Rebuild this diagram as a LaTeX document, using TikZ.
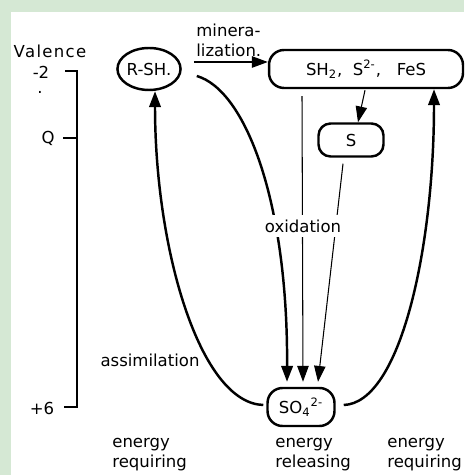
\documentclass[tikz,border=0pt]{standalone}
\usepackage{fontspec}
\setmainfont{DejaVu Sans}
\usetikzlibrary{arrows.meta, positioning, calc, shapes.geometric}
\definecolor{frameColor}{HTML}{D5E8D4}

\begin{document}
\begin{tikzpicture}[
    x=0.02cm, y=-0.02cm,
    font=\fontsize{9.4}{11.3}\selectfont,
    species/.style={draw, line width=1.4pt, rounded corners=0.3cm, inner sep=0pt, minimum height=0.76cm},
    organic/.style={ellipse, draw, line width=1.4pt, inner sep=0pt, minimum width=1.24cm, minimum height=0.84cm},
    flux/.style={-{Triangle[length=9pt, width=6.5pt]}, line width=1.4pt},
    minor/.style={-{Triangle[length=9pt, width=6.5pt]}, line width=0.6pt},
    scaleLine/.style={line width=0.8pt},
    labelStyle/.style={fill=white, inner sep=2.5pt},
    energyStyle/.style={anchor=north west, align=left, inner sep=0pt}
]

\fill[frameColor] (0,0) rectangle (464,475);
\fill[white] (11,12) rectangle (464,475);
\useasboundingbox (0,0) rectangle (464,475);

% valence scale
\node (valence) at (50,51) {\addfontfeatures{LetterSpace=8}Valence};
\node[inner sep=1pt] (vMinus2) at (41,72) {-2};
\node[inner sep=0pt] (vDot) at (40,92) {.};
\node (vZero) at (48,138) {Q};
\node (vPlus6) at (42,408) {+6};
\coordinate (t2) at (77,71);
\coordinate (t0) at (77,138);
\coordinate (t6) at (77,407);
\draw[scaleLine] ($(t2)+(-12,0)$) -- (t2) -- (t6) -- ($(t6)+(-13,0)$);
\draw[scaleLine] ($(t0)+(-14,0)$) -- (t0);

% sulfur species
\node[organic] (RSH) at (149,69) {R-SH.};
\node[species, minimum width=3.88cm] (H2S) at (366,69) {SH\textsubscript{2},\ \ S\textsuperscript{2-},\ \ \ FeS};
\node[species, minimum width=1.3cm, minimum height=0.66cm, rounded corners=0.24cm] (S0) at (351,140) {S};
\node[species, minimum width=1.34cm] (SO4) at (301,407) {SO\textsubscript{4}\textsuperscript{2-}};

% transformations
\draw[minor] ($(RSH.east)+(12,-7)$) -- ($(H2S.west)+(0,-7)$);
\draw[flux] ($(RSH.east)+(15,7)$) .. controls (245,90) and (288,200) .. ($(SO4.north)+(-14,-5)$);
\draw[minor] ($(H2S.south -| SO4.north)+(1,7)$) -- ($(SO4.north)+(2,-5)$);
\draw[minor] ($(H2S.south)+(-1,1)$) -- ($(S0.north)+(7,0)$);
\draw[minor] ($(S0.south)+(-8,6)$) -- ($(SO4.north)+(17,-5)$);
\draw[flux] ($(SO4.east)+(8,-2)$) .. controls (400,403) and (434,250) .. ($(H2S.south)+(68,0)$);
\draw[flux] ($(SO4.west)+(-3,-2)$) .. controls (200,403) and (155,250) .. ($(RSH.south)+(6,0)$);

\node[anchor=west, align=left, inner sep=0pt] (minLabel) at (196,40) {minera-\\lization.};
\node[labelStyle] (oxLabel) at (303,226) {oxidation};
\node (assimLabel) at (150,360) {assimilation};

\node[energyStyle] (leftEnergy) at (112,438) {energy\\requiring};
\node[energyStyle] (midEnergy) at (275,438) {energy\\releasing};
\node[energyStyle] (rightEnergy) at (387,438) {energy\\requiring};

\end{tikzpicture}
\end{document}
